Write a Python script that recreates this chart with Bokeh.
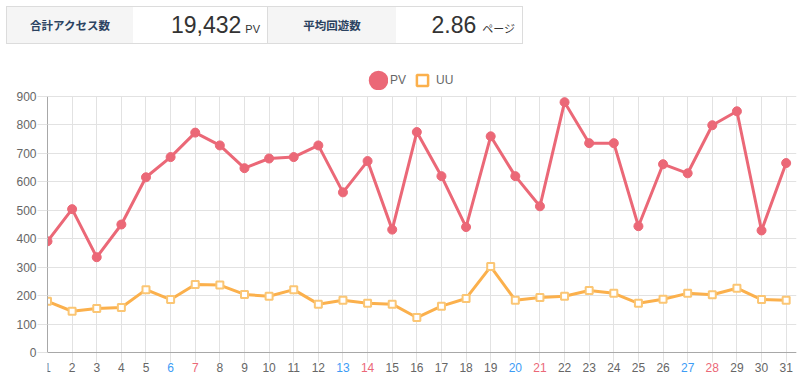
import numpy as np
from bokeh.plotting import figure
from bokeh.models import Range1d, FixedTicker, Span, Legend, LegendItem, Div, ColumnDataSource
from bokeh.layouts import column
from bokeh.core.properties import value
from bokeh.embed import file_html
from bokeh.resources import INLINE

# ---- data ----
days = list(range(1, 32))
day_labels = [str(d) for d in days]
pv = [391, 504, 335, 450, 616, 687, 773, 728, 648, 682, 687, 728, 563, 673, 432,
      775, 620, 441, 760, 620, 514, 880, 736, 736, 444, 662, 630, 799, 848, 429, 666]
uu = [180, 145, 155, 158, 221, 186, 239, 237, 204, 198, 221, 170, 184, 173, 170,
      123, 163, 190, 302, 184, 193, 198, 218, 208, 173, 187, 208, 203, 226, 186, 184]
saturdays = [6, 13, 20, 27]
sundays = [7, 14, 21, 28]
y_ticks = list(range(0, 1000, 100))
series_names = ["PV", "UU"]
summary_labels = ["合計アクセス数", "平均回遊数"]
summary_values = ["19,432", "2.86"]
summary_units = ["PV", "ページ"]

# ---- styles ----
PV_COLOR = "#eb6877"
UU_COLOR = "#fbb04c"
UU_POINT_LINE = "#fbc674"
SAT_COLOR = "#3d9cf5"
SUN_COLOR = "#eb6877"
GRID = "#e2e2e2"
AXIS = "#a8a8a8"
TXT = "#666666"
FONT = "Liberation Sans"

label_colors = [SAT_COLOR if d in saturdays else SUN_COLOR if d in sundays else TXT for d in days]

# ---- header table ----
cell_lbl = ("height:36px;line-height:36px;background:#f5f5f5;text-align:center;"
            "font-family:'Noto Sans CJK JP',sans-serif;font-weight:bold;font-size:11.5px;color:#2b4260;")
cell_val = ("height:36px;line-height:36px;text-align:right;padding-right:7px;box-sizing:border-box;"
            "font-family:'Liberation Sans',Arial,sans-serif;color:#333;white-space:nowrap;")
html = (
    "<div style=\"position:absolute;left:6px;top:6px;width:517px;height:38px;box-sizing:border-box;"
    "border:1px solid #dcdcdc;display:flex;\">"
    f"<div style=\"width:126px;{cell_lbl}\">{summary_labels[0]}</div>"
    f"<div style=\"width:134px;{cell_val}\"><span style=\"font-size:23px\">{summary_values[0]}</span>"
    f"<span style=\"font-size:11px;margin-left:4px\">{summary_units[0]}</span></div>"
    "<div style=\"width:1px;height:36px;background:#dcdcdc\"></div>"
    f"<div style=\"width:128px;{cell_lbl}\">{summary_labels[1]}</div>"
    f"<div style=\"width:126px;{cell_val}\"><span style=\"font-size:23px\">{summary_values[1]}</span>"
    f"<span style=\"font-size:11px;margin-left:6px;font-family:'Noto Sans CJK JP',sans-serif\">{summary_units[1]}</span></div>"
    "</div>"
)
div = Div(text=html, width=797, height=56, margin=0)

# ---- chart ----
plot_px = 256.0           # pixels spanning 0..900
pad_px = 25.0             # pixels below the zero line for day labels
top_px = 30.0             # pixels above 900 for the legend
tick_px = 10.0
pxu = plot_px / y_ticks[-1]
y_start = -pad_px / pxu
y_end = y_ticks[-1] + top_px / pxu

p = figure(width=797, height=321, x_range=Range1d(1, 31.42), y_range=Range1d(y_start, y_end),
           output_backend="svg", toolbar_location=None, margin=0,
           min_border_left=47, min_border_right=1, min_border_top=10, min_border_bottom=0)
p.outline_line_color = None
p.background_fill_color = "white"
p.border_fill_color = "white"

p.xaxis.visible = False
p.xgrid.ticker = FixedTicker(ticks=days)
p.xgrid.grid_line_color = GRID
p.xgrid.cross_bounds = (-tick_px / pxu, y_ticks[-1])

p.yaxis.ticker = FixedTicker(ticks=y_ticks)
p.yaxis.bounds = (y_ticks[0], y_ticks[-1])
p.yaxis.major_tick_out = 10
p.yaxis.major_tick_in = 0
p.yaxis.minor_tick_line_color = None
p.yaxis.major_tick_line_color = GRID
p.yaxis.axis_line_color = AXIS
p.yaxis.major_label_standoff = 1
p.yaxis.major_label_text_font = FONT
p.yaxis.major_label_text_font_size = "12px"
p.yaxis.major_label_text_color = TXT
p.ygrid.ticker = FixedTicker(ticks=y_ticks)
p.ygrid.grid_line_color = GRID

p.add_layout(Span(location=y_ticks[0], dimension="width", line_color=AXIS, line_width=1))

# day labels
src = ColumnDataSource(dict(x=days, y=[y_ticks[0]] * len(days), text=day_labels, color=label_colors))
p.text(x="x", y="y", text="text", text_color="color", source=src, text_align="center",
       text_baseline="top", y_offset=10, text_font=value(FONT), text_font_size="12px")

# series
series_src = ColumnDataSource(dict(day=days, pv=pv, uu=uu))
p.line("day", "uu", source=series_src, line_color=UU_COLOR, line_width=3)
p.scatter("day", "uu", source=series_src, marker="square", size=7, fill_color="white",
          line_color=UU_POINT_LINE, line_width=2)
p.line("day", "pv", source=series_src, line_color=PV_COLOR, line_width=3)
p.scatter("day", "pv", source=series_src, marker="circle", size=9, fill_color=PV_COLOR,
          line_color=PV_COLOR, line_width=1)

# legend-only renderers: a single undrawn (NaN) entry so that the legend has a glyph to show
nan = np.array([np.nan])
r_pv = p.scatter(x=nan, y=nan, marker="circle", fill_color=PV_COLOR, line_color=PV_COLOR, line_width=11.5)
r_uu = p.scatter(x=nan, y=nan, marker="square", fill_color="white", line_color=UU_COLOR, line_width=2.5)

common = dict(padding=0, margin=0, border_line_color=None, background_fill_alpha=0,
              label_text_font=FONT, label_text_font_size="12px", label_text_color=TXT)
leg_pv = Legend(items=[LegendItem(label=series_names[0], renderers=[r_pv])], location=(321, 287),
                glyph_width=20, glyph_height=20, label_standoff=2, **common)
leg_uu = Legend(items=[LegendItem(label=series_names[1], renderers=[r_uu])], location=(361, 283),
                glyph_width=28, glyph_height=28, label_standoff=0, **common)
p.add_layout(leg_pv)
p.add_layout(leg_uu)

layout = column(div, p)
open("out.html", "w").write(file_html(layout, INLINE))
